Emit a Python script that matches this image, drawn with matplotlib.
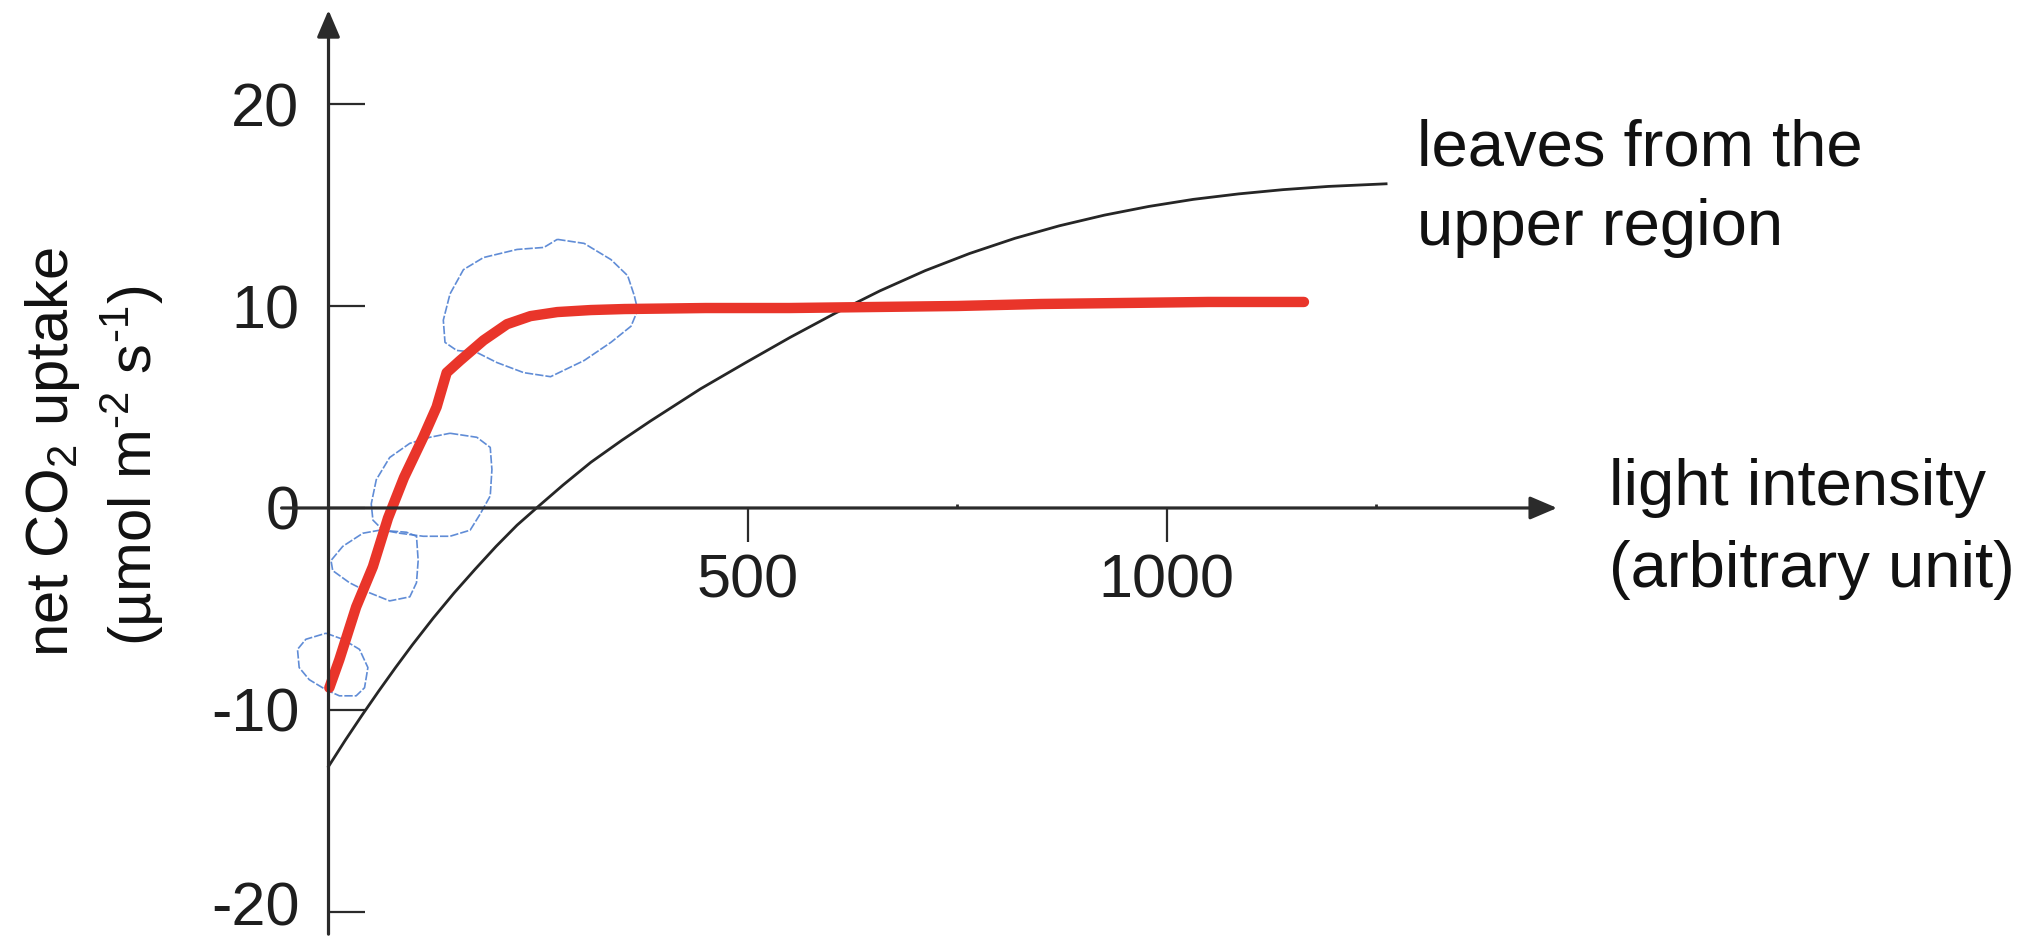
# net CO2 uptake vs light intensity, with hand-drawn red curve and blue loops
import matplotlib
matplotlib.use("Agg")
import matplotlib.pyplot as plt
import matplotlib.transforms as mtransforms

plt.rcParams['font.family'] = ['Liberation Sans', 'DejaVu Sans']
plt.rcParams['mathtext.fontset'] = 'custom'
plt.rcParams['mathtext.rm'] = 'Liberation Sans'

# printed curve: leaves from the upper region
upper_x = [0, 20, 40, 60, 80, 100, 125, 150, 175, 200, 225, 251, 280, 313,
           350, 384, 444, 498, 551, 605, 658, 712, 765, 819, 872, 926, 979,
           1032, 1086, 1139, 1193, 1262]
upper_y = [-12.8, -11.5, -10.26, -9.06, -7.9, -6.78, -5.45, -4.2, -3.03, -1.9,
           -0.85, 0.1, 1.14, 2.26, 3.35, 4.3, 5.9, 7.2, 8.45, 9.65, 10.75,
           11.75, 12.6, 13.35, 13.97, 14.5, 14.93, 15.28, 15.55, 15.76, 15.92,
           16.05]

# hand-drawn red curve
red_x = [1, 13, 33, 53, 71, 90, 113, 129, 141, 157, 185, 213, 241, 273, 313,
         353, 450, 550, 650, 750, 850, 950, 1050, 1164]
red_y = [-8.9, -7.5, -4.9, -2.9, -0.5, 1.5, 3.5, 5.0, 6.7, 7.3, 8.3, 9.1, 9.5,
         9.7, 9.8, 9.85, 9.9, 9.9, 9.95, 10.0, 10.1, 10.15, 10.2, 10.2]

# blue hand-drawn loops
loop1_x = [-3, 17, 37, 47, 43, 33, 13, -3, -23, -35, -37, -27, -3]
loop1_y = [-6.2, -6.5, -7.0, -7.9, -8.9, -9.3, -9.3, -9.0, -8.5, -7.9, -7.0,
           -6.5, -6.2]
loop2_x = [61, 93, 105, 107, 105, 97, 73, 49, 25, 5, 3, 17, 41, 61]
loop2_y = [-1.1, -1.2, -1.4, -2.6, -3.7, -4.4, -4.6, -4.2, -3.7, -3.1, -2.6,
           -1.9, -1.25, -1.1]
loop3_x = [145, 177, 193, 195, 193, 181, 169, 145, 113, 85, 65, 53, 51, 57,
           73, 97, 121, 145]
loop3_y = [3.7, 3.5, 3.0, 1.9, 0.6, -0.3, -1.1, -1.4, -1.4, -1.25, -1.1, -0.6,
           0.2, 1.4, 2.5, 3.2, 3.5, 3.7]
loop4_x = [273, 305, 337, 357, 365, 369, 361, 337, 305, 265, 233, 201, 177,
           153, 139, 137, 145, 161, 185, 225, 257, 273]
loop4_y = [13.3, 13.1, 12.3, 11.5, 10.5, 9.8, 9.0, 8.2, 7.3, 6.5, 6.7, 7.2,
           7.7, 7.8, 8.2, 9.3, 10.6, 11.8, 12.4, 12.8, 12.9, 13.3]

y_ticks = [-20, -10, 0, 10, 20]
y_labels = ['-20', '-10', '0', '10', '20']
x_ticks = [500, 1000]
x_labels = ['500', '1000']

fig = plt.figure(figsize=(20.42, 9.38), dpi=100)
ax = fig.add_axes([0, 0, 1, 1])
ax.set_xlim(-392, 2044.7)
ax.set_ylim(-21.29, 25.15)
ax.patch.set_visible(False)

for s in ['top', 'right']:
    ax.spines[s].set_visible(False)
ax.spines['left'].set_position(('data', 0))
ax.spines['bottom'].set_position(('data', 0))
ax.spines['left'].set_visible(False)
ax.spines['bottom'].set_visible(False)

axis_col = '#2b2b2b'
head = dict(arrowstyle='-|>,head_length=0.75,head_width=0.32', mutation_scale=22,
            lw=2.3, color=axis_col, shrinkA=0, shrinkB=0)
ax.annotate('', xy=(0, 24.65), xytext=(0, -21.1), arrowprops=head)
ax.annotate('', xy=(1466, 0), xytext=(-56, 0), arrowprops=head)

ax.set_yticks(y_ticks)
ax.set_yticklabels(y_labels)
ax.set_xticks(x_ticks)
ax.set_xticklabels(x_labels)
ax.set_xticks([750, 1250], minor=True)
ax.tick_params(axis='y', direction='in', length=26, width=1.6, pad=21,
               labelsize=44, color=axis_col, labelcolor='#1e1e1e')
ax.tick_params(axis='x', which='major', direction='out', length=24.5, width=1.6,
               pad=8, labelsize=44, color=axis_col, labelcolor='#1e1e1e')
ax.tick_params(axis='x', which='minor', direction='in', length=3, width=2,
               color=axis_col)

# lift the bottom label so it stays inside the canvas
lowest = ax.get_yticklabels()[0]
lowest.set_transform(lowest.get_transform() +
                     mtransforms.ScaledTranslation(0, 6 / 72, fig.dpi_scale_trans))

ax.plot(upper_x, upper_y, color='#262626', lw=2.0, solid_joinstyle='round')

for lx, ly in [(loop1_x, loop1_y), (loop2_x, loop2_y),
               (loop3_x, loop3_y), (loop4_x, loop4_y)]:
    ax.plot(lx, ly, color='#4f80d2', lw=1.2, ls=(0, (5, 1.2)), alpha=0.9,
            solid_joinstyle='round', dash_joinstyle='round')

ax.plot(red_x, red_y, color='#e9352a', lw=7.5, solid_capstyle='round',
        solid_joinstyle='round')

txt = dict(fontsize=47, color='#111111', ha='left', va='baseline')
ax.text(1299, 16.98, 'leaves from the', **txt)
ax.text(1299, 13.02, 'upper region', **txt)
ax.text(1528, 0.15, 'light intensity', **txt)
ax.text(1528, -3.91, '(arbitrary unit)', **txt)

fig.text(68 / 2042, 1 - 452 / 938, r'net CO$\mathregular{_2}$ uptake',
         fontsize=43, rotation=90, rotation_mode='anchor',
         ha='center', va='baseline', color='#111111')
fig.text(152 / 2042, 1 - 466 / 938,
         '(µmol m$\\mathregular{^{\u20102}}$ s$\\mathregular{^{\u20101}}$)',
         fontsize=43, rotation=90, rotation_mode='anchor',
         ha='center', va='baseline', color='#111111')

plt.savefig('out.png', dpi=100)
